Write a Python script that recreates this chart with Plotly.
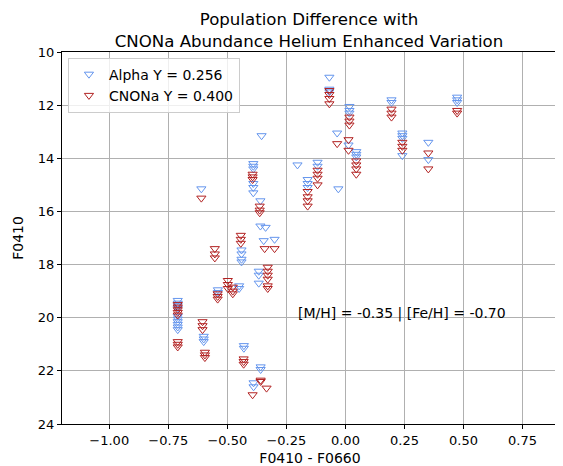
import plotly.graph_objects as go

# Alpha Y = 0.256 (blue)
alpha_x = ([-0.71]*10 + [-0.61] + [-0.60]*3 + [-0.54]*2 + [-0.45]*2 + [-0.44]*4 + [-0.43]*2
           + [-0.39]*6 + [-0.36]*2 + [-0.338] + [-0.346] + [-0.30] + [-0.367]*3 + [-0.359]*2
           + [-0.389]*2 + [-0.355] + [-0.203] + [-0.16]*3 + [-0.118]*2 + [-0.03] + [-0.035]
           + [-0.068]*3 + [0.017]*3 + [0.013] + [0.046]*3 + [0.195]*2 + [0.241]*4
           + [0.351]*2 + [0.473]*3)
alpha_y = ([19.35, 19.45, 19.55, 19.65, 19.95, 20.05, 20.15, 20.25, 20.35, 20.45]
           + [15.15] + [20.7, 20.8, 20.9] + [18.95, 19.05] + [18.8, 18.9]
           + [17.45, 17.6, 17.8, 17.9] + [21.05, 21.15]
           + [14.2, 14.3, 14.4, 14.95, 15.1, 15.3] + [15.6, 16.55] + [16.6] + [17.1] + [17.05]
           + [18.25, 18.4, 18.7] + [21.85, 21.95] + [22.45, 22.6] + [13.15] + [14.25]
           + [14.8, 14.95, 15.1] + [14.15, 14.3] + [15.15] + [13.05]
           + [10.95, 11.4, 11.5] + [12.05, 12.2, 12.3] + [13.5] + [13.75, 13.85, 13.95]
           + [11.8, 11.9] + [13.05, 13.15, 13.25, 13.9] + [13.4, 14.05] + [11.7, 11.8, 11.9])

# CNONa Y = 0.400 (red)
cnona_x = ([-0.71]*8 + [-0.61] + [-0.605]*3 + [-0.595]*3 + [-0.553]*3 + [-0.541]*3
           + [-0.498]*3 + [-0.477]*3 + [-0.443]*3 + [-0.431]*3 + [-0.393]*3 + [-0.363]*3
           + [-0.342] + [-0.30] + [-0.329]*6 + [-0.359]*2 + [-0.393] + [-0.334]
           + [-0.035] + [-0.16]*4 + [-0.118]*4 + [-0.068]*4 + [0.017]*3 + [0.013]*2
           + [0.046]*4 + [0.195]*3 + [0.241]*3 + [0.351]*2 + [0.473]*2)
cnona_y = ([19.5, 19.6, 19.7, 19.8, 19.9, 20.9, 21.0, 21.1] + [15.5]
           + [20.15, 20.3, 20.45] + [21.3, 21.4, 21.5] + [17.4, 17.6, 17.75]
           + [19.1, 19.2, 19.3] + [18.6, 18.75, 18.9] + [18.85, 19.0, 19.1]
           + [16.9, 17.05, 17.2] + [21.55, 21.65, 21.75] + [14.6, 14.7, 14.8]
           + [15.8, 15.95, 16.05] + [17.4] + [17.4] + [18.1, 18.25, 18.4, 18.55, 18.8, 18.9]
           + [22.35, 22.4] + [22.9] + [22.65] + [13.45] + [15.25, 15.45, 15.6, 15.8]
           + [14.45, 14.6, 14.75, 15.0] + [11.45, 11.6, 11.75, 11.95] + [12.45, 12.6, 12.75]
           + [13.3, 13.7] + [14.1, 14.25, 14.4, 14.6] + [12.15, 12.3, 12.45]
           + [13.4, 13.55, 13.7] + [13.8, 14.4] + [12.2, 12.3])

series_names = ["Alpha Y = 0.256", "CNONa Y = 0.400"]
x_ticks = [-1.0, -0.75, -0.5, -0.25, 0.0, 0.25, 0.5, 0.75]
y_ticks = [10, 12, 14, 16, 18, 20, 22, 24]
note = "[M/H] = -0.35 | [Fe/H] = -0.70"

FONT = "DejaVu Sans"
W, H = 555, 458
fig = go.Figure()
for xs, ys, name, col in [(alpha_x, alpha_y, series_names[0], "#6495ed"),
                          (cnona_x, cnona_y, series_names[1], "#b22222")]:
    fig.add_trace(go.Scatter(x=xs, y=ys, mode="markers", name=name,
                             marker=dict(symbol="triangle-down-open", size=8,
                                         color=col, line=dict(width=1, color=col))))

axis_common = dict(showline=True, linecolor="black", linewidth=1, mirror=True,
                   ticks="outside", ticklen=4, tickcolor="black",
                   showgrid=True, gridcolor="#b0b0b0", gridwidth=1, zeroline=False,
                   automargin=False,
                   tickfont=dict(family=FONT, size=13, color="black"))
fig.update_xaxes(range=[-1.2, 0.9], tickvals=x_ticks, tickformat=".2f",
                 title=dict(text="F0410 - F0660", font=dict(family=FONT, size=14, color="black"), standoff=6),
                 **axis_common)
fig.update_yaxes(range=[24, 10], tickvals=y_ticks,
                 title=dict(text="F0410", font=dict(family=FONT, size=14, color="black"), standoff=10),
                 **axis_common)

fig.add_annotation(x=-0.21, y=19.85, text=note, showarrow=False, xanchor="left",
                   yanchor="middle", font=dict(family=FONT, size=14, color="black"))

fig.update_layout(
    width=W, height=H,
    margin=dict(l=54, r=5, t=44, b=42),
    paper_bgcolor="white", plot_bgcolor="white",
    title=dict(text="Population Difference with<br>CNONa Abundance Helium Enhanced Variation",
               x=301 / W, xanchor="center", y=0.963, yanchor="top",
               font=dict(family=FONT, size=16.6, color="black")),
    legend=dict(x=0.012, y=0.985, xanchor="left", yanchor="top",
                bgcolor="rgba(255,255,255,0.8)", bordercolor="#cccccc", borderwidth=1,
                font=dict(family=FONT, size=14, color="black")),
    showlegend=True,
)
fig.write_html("out.html")
